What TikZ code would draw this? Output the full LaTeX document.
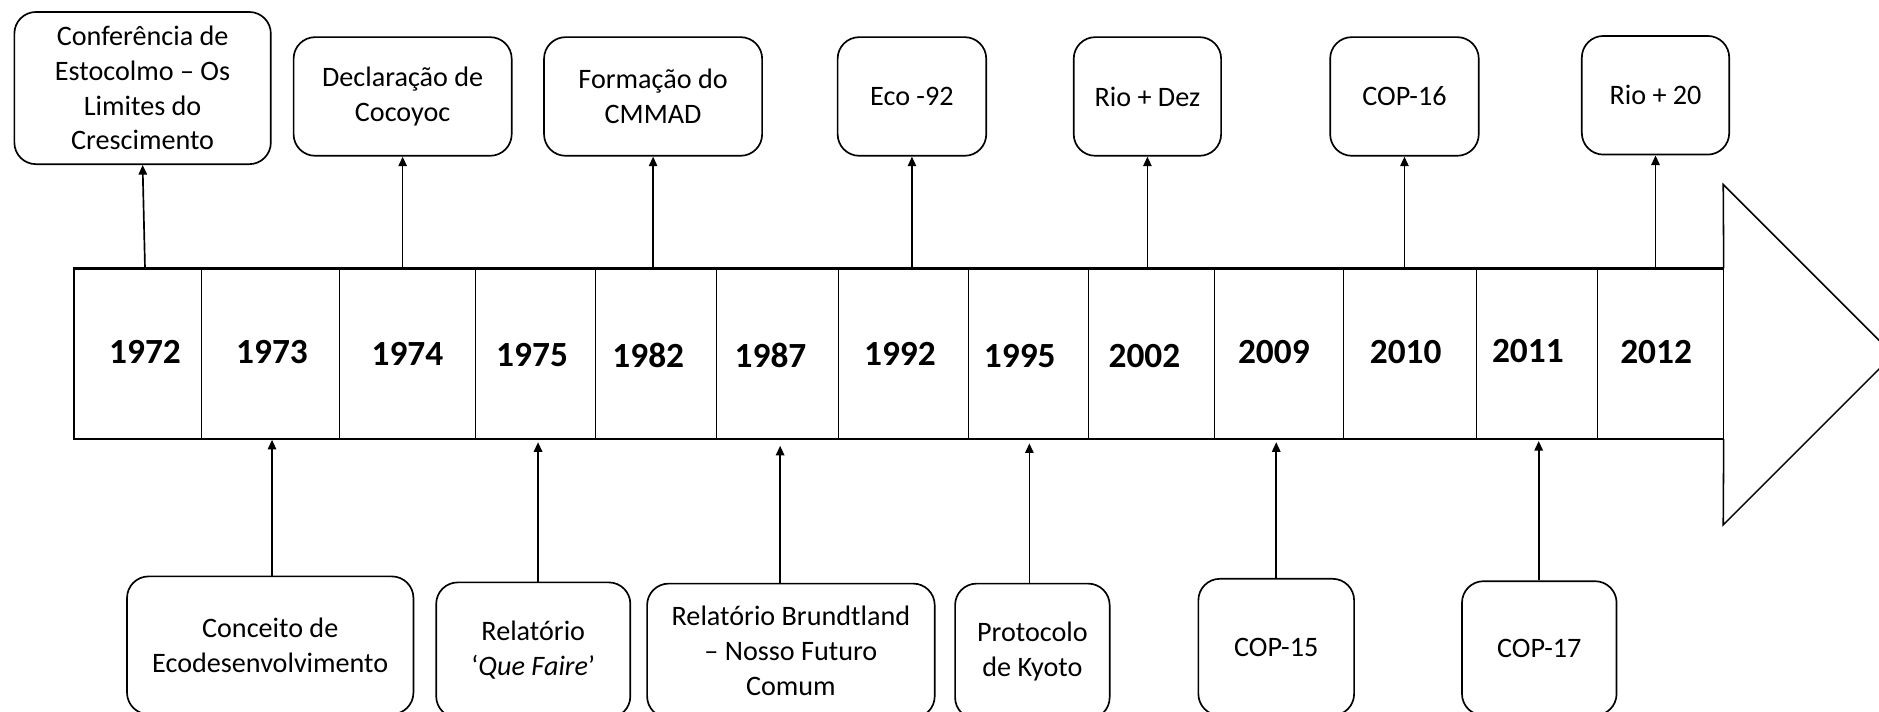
\documentclass[tikz,border=0pt]{standalone}
\usepackage{fontspec}
\setmainfont{Carlito}
\usetikzlibrary{arrows.meta}
\begin{document}
\begin{tikzpicture}[x=1pt,y=-1pt,
  evbox/.style={draw, rounded corners=18pt, line width=1.4pt, align=center, inner sep=0pt,
    font=\fontsize{23.5}{29}\selectfont},
  yearlbl/.style={font=\fontsize{29.5}{34}\selectfont\bfseries, inner sep=0pt},
  conn/.style={-{Triangle[length=8pt,width=7pt]}, line width=1.4pt},
  thinline/.style={line width=0.7pt},
  thickline/.style={line width=1.8pt}]
\useasboundingbox (0,0) rectangle (1568,594);
\clip (0,0) rectangle (1568,594);

% timeline bar
\node[minimum width=1376pt, minimum height=142pt, inner sep=0pt, anchor=north west] (tl) at (62,224) {};
\draw[thickline] (tl.north east) -- (tl.north west) -- (tl.south west) -- (tl.south east);
\draw[thinline] (tl.north east) -- (tl.south east);
\foreach \x in {168,283,397,497,598,700,808,908,1013,1121,1232,1333}
  \draw[thinline] (\x,224) -- (\x,366);
% arrow head of the timeline
\draw[line width=1.3pt] (tl.north east) -- (1438,154) -- (1580,296) -- (1438,438) -- (tl.south east);

% years
\node[yearlbl] (y1972) at (121,294) {1972};
\node[yearlbl] (y1973) at (227,294) {1973};
\node[yearlbl] (y1974) at (340,295) {1974};
\node[yearlbl] (y1975) at (444,296) {1975};
\node[yearlbl] (y1982) at (541,297) {1982};
\node[yearlbl] (y1987) at (643,297) {1987};
\node[yearlbl] (y1992) at (751,295) {1992};
\node[yearlbl] (y1995) at (851,297) {1995};
\node[yearlbl] (y2002) at (955,297) {2002};
\node[yearlbl] (y2009) at (1063,294) {2009};
\node[yearlbl] (y2010) at (1173,294) {2010};
\node[yearlbl] (y2011) at (1275,293) {2011};
\node[yearlbl] (y2012) at (1382,294) {2012};

% top events
\node[evbox, minimum width=214pt, minimum height=127pt] (conf) at (119,73.5)
  {Conferência de\\Estocolmo – Os\\Limites do\\Crescimento};
\node[evbox, minimum width=182pt, minimum height=99pt] (decl) at (336,80.5)
  {Declaração de\\Cocoyoc};
\node[evbox, minimum width=182pt, minimum height=99pt] (form) at (545,80.5)
  {Formação do\\CMMAD};
\node[evbox, minimum width=124pt, minimum height=99pt] (eco) at (761,80.5) {Eco -92};
\node[evbox, minimum width=123pt, minimum height=99pt] (riodez) at (957.5,80.5) {Rio + Dez};
\node[evbox, minimum width=124pt, minimum height=99pt] (cop16) at (1172,80.5) {COP-16};
\node[evbox, minimum width=123pt, minimum height=99pt] (rio20) at (1381.5,79.5) {Rio + 20};

% bottom events
\node[evbox, minimum width=239pt, minimum height=115pt] (conc) at (225.5,538.5)
  {Conceito de\\Ecodesenvolvimento};
\node[evbox, minimum width=162pt, minimum height=113pt] (qf) at (445,542.5)
  {Relatório\\‘\textit{Que Faire}’};
\node[evbox, minimum width=240pt, minimum height=112pt] (brund) at (660,543)
  {Relatório Brundtland\\– Nosso Futuro\\Comum};
\node[evbox, minimum width=129pt, minimum height=113pt] (prot) at (861.5,543.5)
  {Protocolo\\de Kyoto};
\node[evbox, minimum width=130pt, minimum height=114pt] (cop15) at (1065,540) {COP-15};
\node[evbox, minimum width=129pt, minimum height=112pt] (cop17) at (1284.5,541) {COP-17};

% connector tails / heads on the bar
\coordinate (t1972) at (121,224);
\coordinate (b1973) at (227,367);
\coordinate (b1975) at (449,369);
\coordinate (b1987) at (651,372);
\coordinate (b1995) at (859,370);
\coordinate (b2009) at (1065,369);
\coordinate (b2011) at (1284,368);

% connectors up to the top events
\draw[conn] (t1972) -- (conf.south);
\draw[conn] (tl.north -| decl.south) -- (decl.south);
\draw[conn] (tl.north -| form.south) -- (form.south);
\draw[conn] (tl.north -| eco.south) -- (eco.south);
\draw[conn] (tl.north -| riodez.south) -- (riodez.south);
\draw[conn] (tl.north -| cop16.south) -- (cop16.south);
\draw[conn] (tl.north -| rio20.south) -- (rio20.south);

% connectors from the bottom events to the bar
\draw[conn] (b1973 |- conc.north) -- (b1973);
\draw[conn] (b1975 |- qf.north) -- (b1975);
\draw[conn] (b1987 |- brund.north) -- (b1987);
\draw[conn] (b1995 |- prot.north) -- (b1995);
\draw[conn] (b2009 |- cop15.north) -- (b2009);
\draw[conn] (b2011 |- cop17.north) -- (b2011);
\end{tikzpicture}
\end{document}
